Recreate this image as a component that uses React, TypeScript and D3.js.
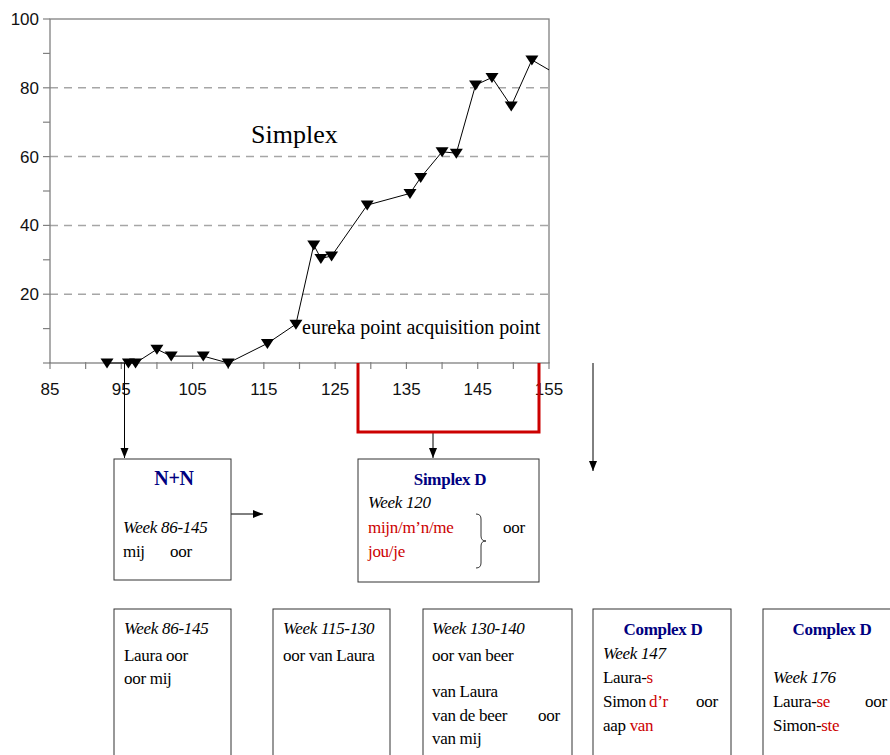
import React, { useEffect, useRef } from 'react';
import * as d3 from 'd3';

// data
const weeks = [93, 96, 97, 100, 102, 106.5, 110, 115.5, 119.5, 122, 123, 124.5, 129.5, 135.5, 137, 140, 142, 144.7, 147, 149.7, 152.6, 157];
const scores = [0, 0, 0, 4, 2, 2, 0, 5.7, 11.3, 34.3, 30.4, 31.1, 45.9, 49.3, 53.9, 61.4, 61, 80.8, 83, 74.7, 88.1, 82.8];
const xTicks = [85, 95, 105, 115, 125, 135, 145, 155];
const yTicks = [20, 40, 60, 80, 100];
const gridValues = [20, 40, 60, 80];

const NAVY = '#000080';
const RED = '#cc0000';
const SERIF = '"Liberation Serif", "Times New Roman", serif';
const SANS = '"Liberation Sans", Arial, sans-serif';

type Seg = { t: string; c?: string; dx?: number };
type Line = { x: number; y: number; segs: Seg[]; italic?: boolean; bold?: boolean; anchor?: string; color?: string; size?: number };

const boxLines: Line[] = [
  // N+N
  { x: 174, y: 485, bold: true, anchor: 'middle', color: NAVY, size: 20, segs: [{ t: 'N+N' }] },
  { x: 123, y: 533, italic: true, segs: [{ t: 'Week 86-145' }] },
  { x: 123, y: 557, segs: [{ t: 'mij' }, { t: 'oor', dx: 47 }] },
  // Simplex D
  { x: 450, y: 485, bold: true, anchor: 'middle', color: NAVY, segs: [{ t: 'Simplex D' }] },
  { x: 368, y: 508, italic: true, segs: [{ t: 'Week 120' }] },
  { x: 368, y: 533, color: RED, segs: [{ t: 'mijn/m\u2019n/me' }] },
  { x: 368, y: 557, color: RED, segs: [{ t: 'jou/je' }] },
  { x: 503, y: 533, segs: [{ t: 'oor' }] },
  // bottom row
  { x: 124, y: 634, italic: true, segs: [{ t: 'Week 86-145' }] },
  { x: 124, y: 661, segs: [{ t: 'Laura oor' }] },
  { x: 124, y: 684, segs: [{ t: 'oor mij' }] },
  { x: 283, y: 634, italic: true, segs: [{ t: 'Week 115-130' }] },
  { x: 283, y: 661, segs: [{ t: 'oor van Laura' }] },
  { x: 432, y: 634, italic: true, segs: [{ t: 'Week 130-140' }] },
  { x: 432, y: 661, segs: [{ t: 'oor van beer' }] },
  { x: 432, y: 697, segs: [{ t: 'van Laura' }] },
  { x: 432, y: 721, segs: [{ t: 'van de beer' }, { t: 'oor', dx: 106 }] },
  { x: 432, y: 744, segs: [{ t: 'van mij' }] },
  { x: 663, y: 635, bold: true, anchor: 'middle', color: NAVY, segs: [{ t: 'Complex D' }] },
  { x: 603, y: 659, italic: true, segs: [{ t: 'Week 147' }] },
  { x: 603, y: 683, segs: [{ t: 'Laura-' }, { t: 's', c: RED }] },
  { x: 603, y: 707, segs: [{ t: 'Simon' }, { t: 'd\u2019r', c: RED, dx: 46 }, { t: 'oor', dx: 93 }] },
  { x: 603, y: 731, segs: [{ t: 'aap ' }, { t: 'van', c: RED }] },
  { x: 832, y: 635, bold: true, anchor: 'middle', color: NAVY, segs: [{ t: 'Complex D' }] },
  { x: 773, y: 683, italic: true, segs: [{ t: 'Week 176' }] },
  { x: 773, y: 707, segs: [{ t: 'Laura-' }, { t: 'se', c: RED }, { t: 'oor', dx: 92 }] },
  { x: 773, y: 731, segs: [{ t: 'Simon-' }, { t: 'ste', c: RED }] },
];

const App = () => {
  const svgRef = useRef<SVGSVGElement>(null);

  useEffect(() => {
    if (!svgRef.current) return;
    const svg = d3.select(svgRef.current);
    svg.selectAll('*').remove();

    const left = 50, right = 549, top = 19, bottom = 363;
    const x = d3.scaleLinear().domain([85, 155]).range([left, right]);
    const y = d3.scaleLinear().domain([0, 100]).range([bottom, top]);

    const defs = svg.append('defs');
    defs.append('clipPath').attr('id', 'plot-clip')
      .append('rect').attr('x', left).attr('y', top - 10).attr('width', right - left).attr('height', bottom - top + 20);
    defs.append('marker').attr('id', 'arrow')
      .attr('viewBox', '0 0 10 10').attr('refX', 10).attr('refY', 5)
      .attr('markerWidth', 10).attr('markerHeight', 10).attr('markerUnits', 'userSpaceOnUse')
      .attr('orient', 'auto')
      .append('path').attr('d', 'M0,1 L10,5 L0,9 Z').attr('fill', '#000');

    // gridlines
    svg.append('g').selectAll('line').data(gridValues).enter().append('line')
      .attr('x1', left).attr('x2', right)
      .attr('y1', d => y(d)).attr('y2', d => y(d))
      .attr('stroke', '#a6a6a6').attr('stroke-width', 1.5).attr('stroke-dasharray', '8,6');

    // plot frame
    svg.append('rect').attr('x', left).attr('y', top).attr('width', right - left).attr('height', bottom - top)
      .attr('fill', 'none').attr('stroke', '#808080').attr('stroke-width', 1.3);

    // ticks
    svg.append('g').selectAll('line').data(d3.range(0, 101, 10)).enter().append('line')
      .attr('x1', left - 7).attr('x2', left).attr('y1', d => y(d)).attr('y2', d => y(d))
      .attr('stroke', '#808080').attr('stroke-width', 1.2);
    svg.append('g').selectAll('line').data(d3.range(85, 156, 5)).enter().append('line')
      .attr('x1', d => x(d)).attr('x2', d => x(d)).attr('y1', bottom - 1).attr('y2', bottom + 6)
      .attr('stroke', '#808080').attr('stroke-width', 1.2);

    svg.append('g').selectAll('text').data(yTicks).enter().append('text')
      .attr('x', left - 11).attr('y', d => y(d) + 6)
      .attr('text-anchor', 'end').style('font-family', SANS).style('font-size', '17px').style('fill', '#111')
      .text(d => d);
    svg.append('g').selectAll('text').data(xTicks).enter().append('text')
      .attr('x', d => x(d)).attr('y', bottom + 32)
      .attr('text-anchor', 'middle').style('font-family', SANS).style('font-size', '17px').style('fill', '#111')
      .text(d => d);

    // series
    const pts = weeks.map((w, i) => [w, scores[i]] as [number, number]);
    const plot = svg.append('g').attr('clip-path', 'url(#plot-clip)');
    plot.append('path').datum(pts)
      .attr('d', d3.line().x(d => x(d[0])).y(d => y(d[1])))
      .attr('fill', 'none').attr('stroke', '#000').attr('stroke-width', 1);
    plot.selectAll('path.mk').data(pts.filter(p => p[0] <= 155)).enter().append('path')
      .attr('class', 'mk')
      .attr('transform', d => `translate(${x(d[0])},${y(d[1])})`)
      .attr('d', 'M-6.5,-4.5 L6.5,-4.5 L0,5.5 Z').attr('fill', '#000');

    svg.append('text').attr('x', 251).attr('y', 143)
      .style('font-family', SERIF).style('font-size', '26px').text('Simplex');
    svg.append('text').attr('x', 302).attr('y', 334)
      .style('font-family', SERIF).style('font-size', '20px').text('eureka point acquisition point');

    // connectors
    const arrows = [
      [124.5, 363, 124.5, 458],
      [231, 514, 263, 514],
      [433, 433, 433, 458],
      [593, 363, 593, 471],
    ];
    svg.append('g').selectAll('line').data(arrows).enter().append('line')
      .attr('x1', d => d[0]).attr('y1', d => d[1]).attr('x2', d => d[2]).attr('y2', d => d[3])
      .attr('stroke', '#000').attr('stroke-width', 1).attr('marker-end', 'url(#arrow)');

    svg.append('path').attr('d', 'M358,363 V432 H539 V363')
      .attr('fill', 'none').attr('stroke', RED).attr('stroke-width', 3);

    // boxes
    const boxes = [
      [114, 459, 117, 121],
      [358, 459, 181, 123],
      [114, 609, 117, 160],
      [273, 609, 117, 160],
      [423, 609, 149, 160],
      [593, 609, 138, 160],
      [763, 609, 140, 160],
    ];
    svg.append('g').selectAll('rect').data(boxes).enter().append('rect')
      .attr('x', d => d[0]).attr('y', d => d[1]).attr('width', d => d[2]).attr('height', d => d[3])
      .attr('fill', 'none').attr('stroke', '#333').attr('stroke-width', 1);

    // brace
    svg.append('path')
      .attr('d', 'M476,514 Q481,514 481,519 V536 Q481,541 486,541 Q481,541 481,546 V563 Q481,568 476,568')
      .attr('fill', 'none').attr('stroke', '#333').attr('stroke-width', 1);

    // box text
    boxLines.forEach(l => {
      const t = svg.append('text').attr('x', l.x).attr('y', l.y)
        .attr('text-anchor', l.anchor || 'start')
        .style('font-family', SERIF).style('font-size', `${l.size || 17}px`)
        .style('letter-spacing', '-0.3px')
        .style('font-style', l.italic ? 'italic' : 'normal')
        .style('font-weight', l.bold ? 'bold' : 'normal')
        .style('fill', l.color || '#000');
      l.segs.forEach(s => {
        const sp = t.append('tspan').text(s.t);
        if (s.c) sp.style('fill', s.c);
        if (s.dx !== undefined) sp.attr('x', l.x + s.dx);
      });
    });
  }, []);

  return (
    <div style={{ position: 'absolute', left: 0, top: 0, width: 890, height: 755, background: '#fff' }}>
      <svg ref={svgRef} width={890} height={755}></svg>
    </div>
  );
};

export default App;
